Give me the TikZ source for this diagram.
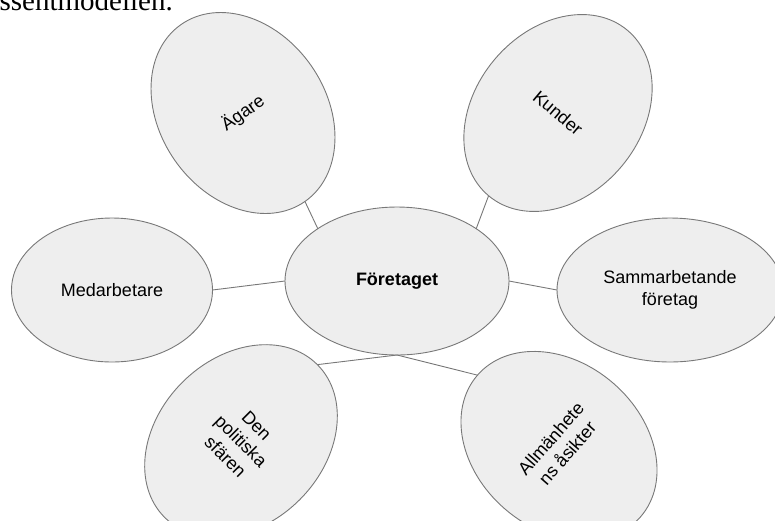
\documentclass[tikz,border=0pt]{standalone}
\usepackage{fontspec}
\setmainfont{Liberation Sans}
\newfontfamily\timesfont{Liberation Serif}
\usepackage{xcolor}
\usepackage{tikz}
\usetikzlibrary{shapes}
\definecolor{bubblefill}{HTML}{EEEEEE}
\definecolor{bubbleline}{HTML}{787878}
\tikzset{nd/.style={ellipse,draw=bubbleline,fill=bubblefill,line width=0.9pt,inner sep=0pt,outer sep=0pt,align=center,font=\fontsize{18}{22}\selectfont}}
\tikzset{tilted/.style={nd,minimum width=166pt,minimum height=216pt}}
\tikzset{conn/.style={draw=bubbleline,line width=0.9pt}}

\begin{document}
\begin{tikzpicture}[x=1pt,y=1pt]

  \useasboundingbox (0,0) rectangle (775,-520);
  \clip (0,0) rectangle (775,-520);

  % text line above the figure, cut by the page edge
  \node[anchor=base east,inner sep=0pt,font=\timesfont\fontsize{29}{34}\selectfont] (title) at (173,-10) {Intressentmodellen.};

  \node[nd,minimum width=224pt,minimum height=148pt,font=\fontsize{18}{22}\selectfont\bfseries] (firm) at (397,-281) {Företaget};

  \node[nd,minimum width=201pt,minimum height=144pt] (medarb) at (112,-290) {Medarbetare};
  \node[nd,minimum width=226pt,minimum height=144pt] (samarb) at (670,-290) {Sammarbetande\\företag};

  \foreach \x/\y/\r/\name/\txt in {243/113/35/agare/{Ägare}, 558/113/-40/kund/{Kunder},
      241/441/-45/politik/{Den\\politiska\\sfären}, 559/446/49/allm/{Allmänhete\\ns åsikter}} {
    \node[tilted,rotate=\r] (\name) at (\x,-\y) {\txt};
  }

  \draw[conn] (agare.south) -- (firm.north west);
  \draw[conn] (kund.south) -- (firm.north east);
  \draw[conn] (medarb.east) -- (firm.west);
  \draw[conn] (firm.east) -- (samarb.west);
  \draw[conn] (politik.north) -- (firm.south);
  \draw[conn] (firm.south) -- (allm.north);

\end{tikzpicture}
\end{document}
